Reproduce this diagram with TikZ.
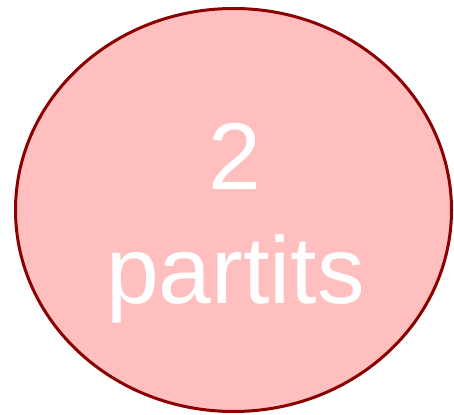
\documentclass[tikz,border=0pt]{standalone}
\usepackage{fontspec}
\setmainfont{Liberation Sans}
\usetikzlibrary{shapes.geometric}
\definecolor{fillpink}{RGB}{255,191,191}
\definecolor{edgered}{RGB}{139,0,0}
\tikzset{
  bubble/.style={ellipse, draw=edgered, fill=fillpink, line width=3pt, inner sep=0pt},
  bigtext/.style={anchor=base, inner sep=0pt, text=white, font=\fontsize{95}{114}\selectfont}
}
\begin{document}
\begin{tikzpicture}
\useasboundingbox (0pt,0pt) rectangle (454pt,414pt);
\node[bubble, minimum width=436pt, minimum height=403pt] (c) at (233.5pt,204pt) {};
\node[bigtext] (t1) at (234.5pt,224pt) {2};
\node[bigtext] (t2) at (235.5pt,110pt) {partits};
\end{tikzpicture}
\end{document}
